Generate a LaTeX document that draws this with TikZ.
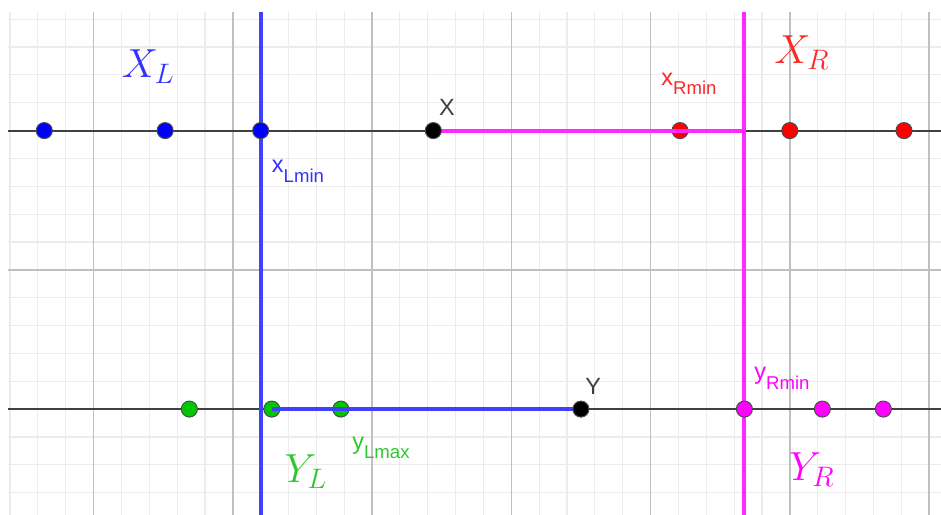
\documentclass[tikz,border=0pt]{standalone}
\usepackage{fontspec}
\setmainfont{Liberation Sans}
\definecolor{axisgray}{RGB}{64,64,64}
\definecolor{majorgray}{RGB}{192,192,192}
\definecolor{minorgray}{RGB}{236,236,236}
\definecolor{ptblue}{RGB}{0,0,255}
\definecolor{ptred}{RGB}{255,0,0}
\definecolor{ptgreen}{RGB}{0,200,0}
\definecolor{ptmagenta}{RGB}{255,0,255}
\definecolor{lineblue}{RGB}{64,64,255}
\definecolor{linemagenta}{RGB}{255,40,255}
\definecolor{labblue}{RGB}{50,50,255}
\definecolor{labred}{RGB}{255,40,40}
\definecolor{labgreen}{RGB}{45,200,45}
\newcommand{\sublab}[2]{#1\raisebox{-5pt}{\fontsize{9.5}{10}\selectfont #2}}
\begin{document}
\begin{tikzpicture}[
            x=0.5cm,y=0.5cm,
            pt/.style={circle,draw=black!70,line width=0.5pt,inner sep=0pt,minimum size=8.2pt,fill=#1},
            lab/.style={inner sep=0pt,font=\fontsize{12}{14}\selectfont,text=#1},
            biglab/.style={inner sep=0pt,font=\huge,text=#1},
            axisline/.style={line width=1pt,draw=axisgray},
            setline/.style={line width=2.1pt,draw=#1}
        ]
    \useasboundingbox (-13.36,-8.80) rectangle (20.43,9.69);
    % Grid
        \draw[step=1,minorgray,line width=0.6pt] (-13.07,-8.80) grid (20.43,9.26);
        \draw[step=5,majorgray,line width=0.8pt] (-13.07,-8.80) grid (20.43,9.26);
    % Axes
        \coordinate (xaxl) at (-13.07,5);
        \coordinate (xaxr) at (20.43,5);
        \coordinate (yaxl) at (-13.07,-5);
        \coordinate (yaxr) at (20.43,-5);
        \draw[axisline] (xaxl) -- (xaxr);
        \draw[axisline] (yaxl) -- (yaxr);
    % Separating lines
        \coordinate (btop) at (-4,9.26);
        \coordinate (bbot) at (-4,-8.80);
        \coordinate (mtop) at (13.37,9.26);
        \coordinate (mbot) at (13.37,-8.80);
        \coordinate (mcut) at (13.37,5);
        \draw[setline=lineblue] (btop) -- (bbot);
        \draw[setline=linemagenta] (mtop) -- (mbot);
    % Points
    \foreach \u [count=\i] in {-11.77,-7.43,-4}{
        \node[pt=ptblue] (xl\i) at (\u,5) {};
    }
    \foreach \u [count=\i] in {11.06,15.0,19.1}{
        \node[pt=ptred] (xr\i) at (\u,5) {};
    }
    \foreach \u [count=\i] in {-6.56,-3.6,-1.12}{
        \node[pt=ptgreen] (yl\i) at (\u,-5) {};
    }
    \foreach \u [count=\i] in {13.37,16.17,18.36}{
        \node[pt=ptmagenta] (yr\i) at (\u,-5) {};
    }
    % Segments
        \coordinate (cX) at (2.2,5);
        \coordinate (cY) at (7.5,-5);
        \draw[setline=linemagenta] (cX) -- (mcut);
        \draw[setline=lineblue] (yl2.center) -- (cY);
        \node[pt=black] (X) at (cX) {};
        \node[pt=black] (Y) at (cY) {};
    % Labels
        \node[biglab=labblue] (labXL) at (-8.04,7.29) {$X_L$};
        \node[biglab=labred] (labXR) at (15.44,7.79) {$X_R$};
        \node[biglab=labgreen] (labYL) at (-2.37,-7.25) {$Y_L$};
        \node[biglab=ptmagenta] (labYR) at (15.8,-7.18) {$Y_R$};
        \node[lab=axisgray] (labX) at (2.69,5.82) {X};
        \node[lab=axisgray] (labY) at (7.94,-4.2) {Y};
        \node[lab=labblue] (labxLmin) at (-2.66,3.55) {\sublab{x}{Lmin}};
        \node[lab=labred] (labxRmin) at (11.38,6.68) {\sublab{x}{Rmin}};
        \node[lab=labgreen] (labyLmax) at (0.32,-6.39) {\sublab{y}{Lmax}};
        \node[lab=ptmagenta] (labyRmin) at (14.72,-3.88) {\sublab{y}{Rmin}};
    \end{tikzpicture}
\end{document}
